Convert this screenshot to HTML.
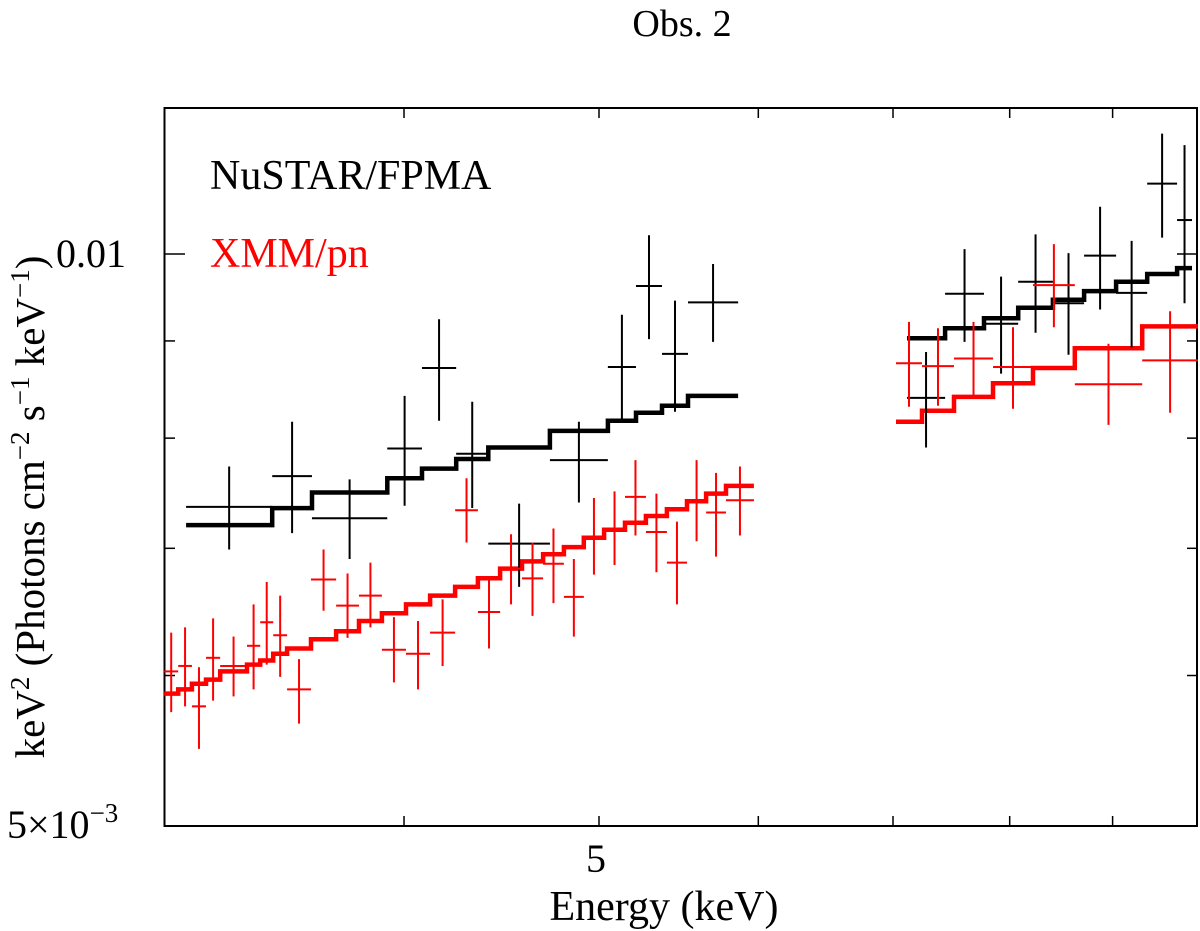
<!DOCTYPE html>
<html><head><meta charset="utf-8"><style>
html,body{margin:0;padding:0;background:#fff;}
svg{display:block;font-family:"Liberation Serif",serif;}
</style></head><body>
<svg id="chart" width="1200" height="931" viewBox="0 0 1200 931" xmlns="http://www.w3.org/2000/svg">
<text x="682" y="36" font-size="38" text-anchor="middle">Obs. 2</text>
<rect x="164.5" y="108" width="1032.5" height="718" fill="none" stroke="#000" stroke-width="2"/>
<g id="ticks"></g>
<text x="126" y="267" font-size="40" text-anchor="end">0.01</text>
<text x="7" y="838" font-size="40">5×10<tspan dy="-16" font-size="27">−3</tspan></text>
<text x="596" y="872" font-size="40" text-anchor="middle">5</text>
<text x="664" y="920" font-size="42" text-anchor="middle">Energy (keV)</text>
<text transform="translate(44,507) rotate(-90)" font-size="41" text-anchor="middle">keV<tspan dy="-15" font-size="27">2</tspan><tspan dy="15"> (Photons cm</tspan><tspan dy="-15" font-size="27">−2</tspan><tspan dy="15"> s</tspan><tspan dy="-15" font-size="27">−1</tspan><tspan dy="15"> keV</tspan><tspan dy="-15" font-size="27">−1</tspan><tspan dy="15">)</tspan></text>
<text x="210" y="189" font-size="42">NuSTAR/FPMA</text>
<text x="210" y="267" font-size="42" fill="#ff0000">XMM/pn</text>
<g id="marks"></g>
</svg>
<script>
// Energy bin edges (keV) and flux values (units of 1e-3 keV^2 ph cm^-2 s^-1 keV^-1)
const nuLeftEdges = [3.117,3.440,3.600,3.924,4.083,4.246,4.405,4.727,5.051,5.216,5.374,5.536,5.863];
const nuLeftVal = [7.36,7.64,7.26,7.90,8.71,7.85,7.04,7.79,8.72,9.62,8.86,9.43];
const nuLeftLo  = [6.99,7.13,6.91,7.37,8.17,7.35,6.68,7.40,8.15,9.02,8.26,8.99];
const nuLeftHi  = [7.73,8.16,7.61,8.42,9.24,8.36,7.39,8.16,9.29,10.23,9.45,9.88];
const nuLeftModel = [7.20,7.35,7.49,7.62,7.71,7.80,7.91,8.07,8.17,8.25,8.32,8.42];

const nuRightEdges = [7.113,7.430,7.768,8.078,8.406,8.711,9.036,9.363,9.689,9.856];
const nuRightVal = [8.40,9.53,9.19,9.67,9.42,9.98,9.54,10.89,10.42];
const nuRightLo  = [7.91,8.99,8.65,9.09,8.85,9.35,8.93,10.20,9.42];
const nuRightHi  = [8.88,10.06,9.73,10.24,10.01,10.59,10.16,11.57,11.41];
const nuRightModel = [9.03,9.14,9.25,9.37,9.46,9.56,9.67,9.76,9.83];

const pnLeftEdges = [3.040,3.089,3.138,3.189,3.241,3.342,3.393,3.444,3.499,3.596,3.701,3.799,3.900,4.009,4.121,4.241,4.353,4.465,4.578,4.690,4.803,4.914,5.029,5.151,5.276,5.404,5.530,5.652,5.782,5.970];
const pnLeftVal = [6.03,6.07,5.78,6.13,6.07,6.22,6.40,6.30,5.90,6.74,6.53,6.61,6.19,6.16,6.32,7.33,6.48,6.83,6.75,6.87,6.60,7.10,7.17,7.45,7.14,6.88,7.42,7.31,7.42];
const pnLeftLo  = [5.74,5.78,5.49,5.82,5.85,5.90,6.08,5.99,5.66,6.49,6.28,6.36,5.95,5.90,6.07,7.05,6.20,6.54,6.45,6.55,6.29,6.78,6.86,7.11,6.80,6.54,7.06,6.93,7.11];
const pnLeftHi  = [6.32,6.36,6.06,6.43,6.29,6.54,6.72,6.61,6.12,6.99,6.79,6.88,6.44,6.41,6.58,7.62,6.74,7.12,7.05,7.17,6.91,7.44,7.50,7.79,7.48,7.23,7.79,7.67,7.73];
const pnLeftModel = [5.87,5.90,5.94,5.97,6.03,6.08,6.11,6.16,6.20,6.27,6.33,6.41,6.47,6.54,6.61,6.68,6.75,6.83,6.89,6.95,7.01,7.09,7.16,7.22,7.28,7.34,7.41,7.48,7.55];

const pnRightEdges = [7.024,7.236,7.506,7.849,8.216,8.619,9.310,9.924];
const pnRightVal = [8.76,8.73,8.81,8.72,9.63,8.54,8.79];
const pnRightLo  = [8.31,8.32,8.41,8.29,9.15,8.13,8.25];
const pnRightHi  = [9.21,9.14,9.21,9.15,10.12,8.97,9.33];
const pnRightModel = [8.16,8.27,8.41,8.55,8.71,8.92,9.16];

const xTicks = [4,5,6,7,8,9];
const yTicks = [6,7,8,9];

const NS='http://www.w3.org/2000/svg';
function xs(e){return 599+2012*Math.log10(e/5);}
function ys(f){return 254-1900*Math.log10(f/10);}
const marks=document.getElementById('marks');
const ticks=document.getElementById('ticks');
function line(parent,x1,y1,x2,y2,color,w){
  const l=document.createElementNS(NS,'line');
  l.setAttribute('x1',x1);l.setAttribute('y1',y1);l.setAttribute('x2',x2);l.setAttribute('y2',y2);
  l.setAttribute('stroke',color);l.setAttribute('stroke-width',w);
  parent.appendChild(l);return l;
}
xTicks.forEach(t=>{
  const x=xs(t);
  const a=line(ticks,x,826,x,816,'#000',1.5);
  
  
  const b=line(ticks,x,108,x,118,'#000',1.5);
  
  
});
yTicks.forEach(t=>{
  const y=ys(t);
  const a=line(ticks,165,y,175,y,'#000',1.5);
  
  
  const b=line(ticks,1197,y,1187,y,'#000',1.5);
  
  
});
[10].forEach(t=>{
  const y=ys(t);
  const a=line(ticks,165,y,185,y,'#000',1.5);
  
  
  const b=line(ticks,1197,y,1177,y,'#000',1.5);
  
  
});
function drawModel(edges,model,color,name){
  let d='';
  model.forEach((m,i)=>{
    const x1=xs(edges[i]),x2=xs(edges[i+1]),y=ys(m);
    d+=(i===0?'M':'L')+x1.toFixed(1)+','+y.toFixed(1)+'L'+x2.toFixed(1)+','+y.toFixed(1);
  });
  const p=document.createElementNS(NS,'path');
  p.setAttribute('d',d);p.setAttribute('fill','none');p.setAttribute('stroke',color);
  p.setAttribute('stroke-width',4.5);
  
  
  marks.appendChild(p);
}
function drawData(edges,val,lo,hi,color,name){
  val.forEach((v,i)=>{
    const g=document.createElementNS(NS,'g');
    
    
    const x1=xs(edges[i]),x2=xs(edges[i+1]),xc=(x1+x2)/2;
    line(g,x1,ys(v),x2,ys(v),color,2);
    line(g,xc,ys(lo[i]),xc,ys(hi[i]),color,2);
    marks.appendChild(g);
  });
}
drawModel(nuLeftEdges,nuLeftModel,'#000','nustar-model-low');
drawModel(nuRightEdges,nuRightModel,'#000','nustar-model-high');
drawModel(pnLeftEdges,pnLeftModel,'#ff0000','xmm-model-low');
drawModel(pnRightEdges,pnRightModel,'#ff0000','xmm-model-high');
drawData(nuLeftEdges,nuLeftVal,nuLeftLo,nuLeftHi,'#000','nustar-data-point');
drawData(nuRightEdges,nuRightVal,nuRightLo,nuRightHi,'#000','nustar-data-point');
drawData(pnLeftEdges,pnLeftVal,pnLeftLo,pnLeftHi,'#ff0000','xmm-data-point');
drawData(pnRightEdges,pnRightVal,pnRightLo,pnRightHi,'#ff0000','xmm-data-point');
</script>
</body></html>
